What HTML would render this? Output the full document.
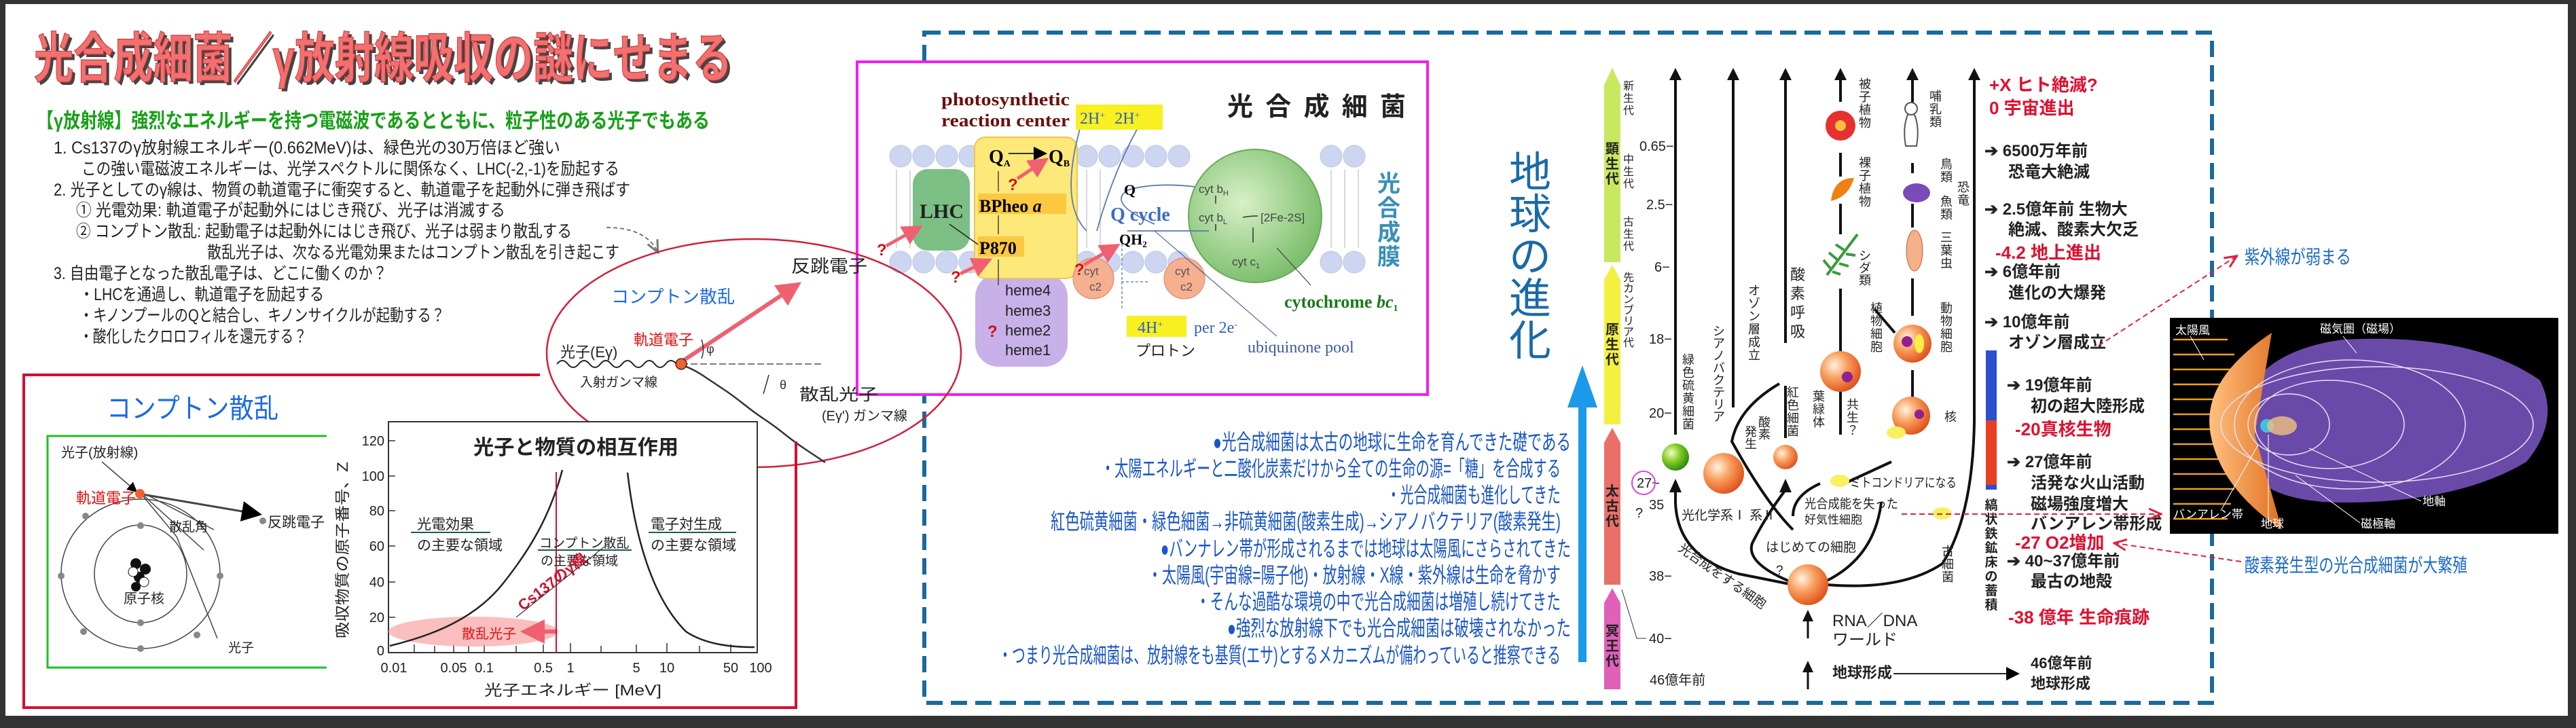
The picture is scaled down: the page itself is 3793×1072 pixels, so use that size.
<!DOCTYPE html>
<html><head><meta charset="utf-8"><style>
html,body{margin:0;padding:0;background:#fff}
svg{display:block}
text{font-family:"Liberation Sans","Noto Sans CJK JP",sans-serif}
.s{font-family:"Liberation Serif","Noto Serif CJK SC",serif}
</style></head><body>
<svg width="3793" height="1072" viewBox="0 0 3793 1072" xmlns="http://www.w3.org/2000/svg">
<defs>
<radialGradient id="og" cx="35%" cy="35%" r="70%"><stop offset="0" stop-color="#fff4e0"/><stop offset="0.45" stop-color="#f8a060"/><stop offset="1" stop-color="#e0501a"/></radialGradient>
<radialGradient id="gg" cx="35%" cy="35%" r="70%"><stop offset="0" stop-color="#f0ffc0"/><stop offset="0.5" stop-color="#80c820"/><stop offset="1" stop-color="#2a8a10"/></radialGradient>
<radialGradient id="cg" cx="40%" cy="40%" r="70%"><stop offset="0" stop-color="#d8f0c8"/><stop offset="1" stop-color="#70b860"/></radialGradient>
<linearGradient id="cone" x1="0" x2="1"><stop offset="0" stop-color="#ffc080"/><stop offset="1" stop-color="#e07020"/></linearGradient>
<marker id="ab" markerWidth="10" markerHeight="10" refX="8" refY="5" orient="auto"><path d="M0,0 L10,5 L0,10 z" fill="#000"/></marker>
<marker id="ar" markerWidth="10" markerHeight="10" refX="8" refY="5" orient="auto"><path d="M0,1 L9,5 L0,9" fill="none" stroke="#e02040" stroke-width="1.5"/></marker>
<marker id="ap" markerWidth="6" markerHeight="6" refX="4" refY="3" orient="auto"><path d="M0,0 L6,3 L0,6 z" fill="#f06070"/></marker>
<marker id="ag" markerWidth="10" markerHeight="10" refX="8" refY="5" orient="auto"><path d="M0,1 L9,5 L0,9" fill="none" stroke="#777" stroke-width="1.5"/></marker>
</defs>
<!-- frame -->
<rect x="0" y="0" width="3793" height="1072" fill="#333"/>
<rect x="8" y="6" width="3773" height="1048" fill="#fff"/>

<!-- title -->
<text x="54" y="118" font-size="80" font-weight="bold" textLength="1028" lengthAdjust="spacingAndGlyphs" fill="#444">光合成細菌／γ放射線吸収の謎にせまる</text>
<text x="50" y="114" font-size="80" font-weight="bold" textLength="1028" lengthAdjust="spacingAndGlyphs" fill="#f27070" stroke="#c83838" stroke-width="1.2">光合成細菌／γ放射線吸収の謎にせまる</text>

<text x="54" y="188" font-size="30" font-weight="bold" fill="#18a018" textLength="991" lengthAdjust="spacingAndGlyphs">【γ放射線】強烈なエネルギーを持つ電磁波であるとともに、粒子性のある光子でもある</text>
<g font-size="25" fill="#222">
<text x="79" y="226" textLength="746" lengthAdjust="spacingAndGlyphs">1. Cs137のγ放射線エネルギー(0.662MeV)は、緑色光の30万倍ほど強い</text>
<text x="120" y="257" textLength="792" lengthAdjust="spacingAndGlyphs">この強い電磁波エネルギーは、光学スペクトルに関係なく、LHC(-2,-1)を励起する</text>
<text x="79" y="288" textLength="849" lengthAdjust="spacingAndGlyphs">2. 光子としてのγ線は、物質の軌道電子に衝突すると、軌道電子を起動外に弾き飛ばす</text>
<text x="112" y="318" textLength="632" lengthAdjust="spacingAndGlyphs">① 光電効果:  軌道電子が起動外にはじき飛び、光子は消滅する</text>
<text x="112" y="349" textLength="730" lengthAdjust="spacingAndGlyphs">② コンプトン散乱:  起動電子は起動外にはじき飛び、光子は弱まり散乱する</text>
<text x="305" y="380" textLength="607" lengthAdjust="spacingAndGlyphs">散乱光子は、次なる光電効果またはコンプトン散乱を引き起こす</text>
<text x="79" y="411" textLength="491" lengthAdjust="spacingAndGlyphs">3. 自由電子となった散乱電子は、どこに働くのか？</text>
<text x="117" y="442" textLength="360" lengthAdjust="spacingAndGlyphs">・LHCを通過し、軌道電子を励起する</text>
<text x="117" y="473" textLength="538" lengthAdjust="spacingAndGlyphs">・キノンプールのQと結合し、キノンサイクルが起動する？</text>
<text x="117" y="504" textLength="335" lengthAdjust="spacingAndGlyphs">・酸化したクロロフィルを還元する？</text>
</g>
<path d="M893,335 Q950,335 968,370" fill="none" stroke="#777" stroke-width="2" stroke-dasharray="6,4" marker-end="url(#ag)"/>

<!-- blue dashed box -->
<rect x="1361" y="48" width="1896" height="987" fill="none" stroke="#1a6a9c" stroke-width="6" stroke-dasharray="24,12"/>

<!-- pink box -->
<rect x="1262" y="91" width="840" height="490" fill="#fff" stroke="#f020f0" stroke-width="4"/>
<!-- membrane -->
<g fill="#cdd6f0" stroke="#b8c4e4">
<g id="crow">
<circle cx="1326" cy="230" r="16"/><circle cx="1360" cy="230" r="16"/><circle cx="1394" cy="230" r="16"/><circle cx="1428" cy="230" r="16"/><circle cx="1600" cy="230" r="16"/><circle cx="1634" cy="230" r="16"/><circle cx="1668" cy="230" r="16"/><circle cx="1702" cy="230" r="16"/><circle cx="1736" cy="230" r="16"/><circle cx="1960" cy="230" r="16"/><circle cx="1994" cy="230" r="16"/>
</g>
<use href="#crow" y="156"/>
</g>
<g stroke="#ccc" stroke-width="1.5">
<path d="M1320,250 v115 M1340,250 v115 M1600,250 v115 M1620,250 v115 M1960,250 v115 M1980,250 v115 M2000,250 v115"/>
</g>
<rect x="1344" y="249" width="84" height="120" rx="22" fill="#7cbf84"/>
<text x="1354" y="321" class="s" font-size="30" font-weight="bold" fill="#222">LHC</text>
<rect x="1436" y="403" width="136" height="137" rx="34" fill="#c8b0e8"/>
<rect x="1435" y="202" width="151" height="208" rx="16" fill="#fde87a" stroke="#e8c850" stroke-width="2"/>
<rect x="1440" y="285" width="130" height="30" fill="#fcc840"/>
<rect x="1440" y="348" width="68" height="30" fill="#fcc840"/>
<text x="1456" y="240" class="s" font-size="28" font-weight="bold">Q<tspan font-size="14" dy="5">A</tspan></text>
<text x="1544" y="240" class="s" font-size="28" font-weight="bold">Q<tspan font-size="14" dy="5">B</tspan></text>
<path d="M1485,226 H1538" stroke="#333" stroke-width="2" marker-end="url(#ab)"/>
<text x="1442" y="312" class="s" font-size="26" font-weight="bold">BPheo <tspan font-style="italic">a</tspan></text>
<text x="1442" y="374" class="s" font-size="26" font-weight="bold">P870</text>
<path d="M1470,282 v-30 M1470,345 v-28 M1470,420 v-38" stroke="#444" stroke-width="1.5"/>
<path d="M1398,330 L1440,360" stroke="#222" stroke-width="1.5"/>
<g class="s" font-size="22" fill="#222"><text x="1480" y="435">heme4</text><text x="1480" y="465">heme3</text><text x="1480" y="494">heme2</text><text x="1480" y="523">heme1</text></g>
<circle cx="1848" cy="318" r="98" fill="url(#cg)" stroke="#6aa85a" stroke-width="2"/>
<circle cx="1610" cy="410" r="30" fill="#f5b090" stroke="#e08060"/>
<circle cx="1744" cy="410" r="30" fill="#f5b090" stroke="#e08060"/>
<g font-size="17" fill="#555"><text x="1596" y="405">cyt</text><text x="1604" y="428">c2</text><text x="1730" y="405">cyt</text><text x="1738" y="428">c2</text></g>
<g font-size="17" fill="#444"><text x="1765" y="284">cyt b<tspan font-size="11" dy="4">H</tspan></text><text x="1765" y="326">cyt b<tspan font-size="11" dy="4">L</tspan></text><text x="1856" y="326">[2Fe-2S]</text><text x="1814" y="391">cyt c<tspan font-size="11" dy="4">1</tspan></text></g>
<path d="M1790,300 v-12 M1790,340 v-10 M1845,335 v22 M1830,320 Q1840,318 1852,318" stroke="#333" stroke-width="1.5" fill="none"/>
<path d="M1700,330 Q1630,300 1660,280 Q1700,268 1760,275 M1660,340 H1780 M1600,340 Q1560,300 1590,190 M1615,340 Q1640,250 1680,180" stroke="#5a7ab0" stroke-width="1.8" fill="none"/>
<path d="M1690,415 H1650 M1652,345 V455" stroke="#6a8ac0" stroke-width="1.5" stroke-dasharray="4,3" fill="none"/>
<path d="M1700,340 L1880,495" stroke="#3050a0" stroke-width="1"/>
<path d="M1880,365 L1930,420" stroke="#333" stroke-width="1"/>
<text x="1655" y="287" class="s" font-size="22" font-weight="bold">Q</text>
<text x="1635" y="325" class="s" font-size="28" font-weight="bold" fill="#3a6ac8">Q cycle</text>
<text x="1648" y="360" class="s" font-size="22" font-weight="bold">QH<tspan font-size="13" dy="4">2</tspan></text>
<text x="1386" y="155" class="s" font-size="26" font-weight="bold" fill="#6a1010" textLength="189" lengthAdjust="spacingAndGlyphs">photosynthetic</text>
<text x="1386" y="186" class="s" font-size="26" font-weight="bold" fill="#6a1010" textLength="189" lengthAdjust="spacingAndGlyphs">reaction center</text>
<rect x="1584" y="154" width="128" height="37" fill="#f8f020"/>
<text x="1590" y="182" class="s" font-size="24" fill="#3060c0">2H<tspan font-size="14" dy="-8">+</tspan><tspan dy="8" dx="14">2H</tspan><tspan font-size="14" dy="-8">+</tspan></text>
<text x="1807" y="170" font-size="38" font-weight="bold" fill="#222" textLength="263" lengthAdjust="spacing">光合成細菌</text>
<g font-size="34" fill="#3a90b8" font-weight="bold"><text x="2028" y="282">光</text><text x="2028" y="318">合</text><text x="2028" y="354">成</text><text x="2028" y="390">膜</text></g>
<text x="1891" y="453" class="s" font-size="26" font-weight="bold" fill="#1a7a1a">cytochrome <tspan font-style="italic">bc</tspan><tspan font-size="14" dy="5">1</tspan></text>
<rect x="1659" y="465" width="88" height="31" fill="#f8f020"/>
<text x="1675" y="490" class="s" font-size="24" fill="#3060c0">4H<tspan font-size="14" dy="-8">+</tspan></text>
<text x="1758" y="490" class="s" font-size="24" fill="#3060c0">per 2e<tspan font-size="14" dy="-8">-</tspan></text>
<text x="1672" y="524" font-size="22" fill="#222">プロトン</text>
<text x="1837" y="519" class="s" font-size="24" fill="#3a5aa8">ubiquinone pool</text>
<g stroke="#f06070" stroke-width="5" marker-end="url(#ap)"><line x1="1305" y1="362" x2="1350" y2="337"/><line x1="1414" y1="403" x2="1452" y2="385"/><line x1="1498" y1="263" x2="1536" y2="238"/><line x1="1596" y1="390" x2="1641" y2="364"/></g>
<g font-size="24" font-weight="bold" fill="#d01010" class="s"><text x="1291" y="376">?</text><text x="1400" y="416">?</text><text x="1484" y="280">?</text><text x="1582" y="405">?</text><text x="1454" y="496">?</text></g>

<!-- Compton callout ellipse -->
<ellipse cx="1110" cy="520" rx="305" ry="168" fill="none" stroke="#d0203a" stroke-width="2.5"/>
<text x="900" y="446" font-size="26" fill="#1a6ae8" textLength="182" lengthAdjust="spacingAndGlyphs">コンプトン散乱</text>
<text x="1165" y="401" font-size="26" fill="#222" textLength="112" lengthAdjust="spacingAndGlyphs">反跳電子</text>
<line x1="1003" y1="533" x2="1170" y2="422" stroke="#f06070" stroke-width="6" marker-end="url(#ap)"/>
<text x="825" y="526" font-size="22" fill="#222">光子(Eγ)</text>
<text x="933" y="508" font-size="22" fill="#e01010">軌道電子</text>
<path d="M820,536 q8,-10 16,0 t16,0 t16,0 t16,0 t16,0 t16,0 t16,0 t16,0 t16,0 t16,0 t16,0" fill="none" stroke="#222" stroke-width="2"/>
<line x1="1003" y1="536" x2="1210" y2="536" stroke="#555" stroke-width="1.5" stroke-dasharray="10,4"/>
<path d="M1005,538 q15,5 30,15 t30,20 t30,22 t30,22 t30,22 t30,22 t30,20" fill="none" stroke="#333" stroke-width="2.5"/>
<circle cx="1003" cy="536" r="8" fill="#f06030" stroke="#000"/>
<text x="854" y="569" font-size="19" fill="#222">入射ガンマ線</text>
<text x="1040" y="520" font-size="18" fill="#333">φ</text>
<text x="1148" y="573" font-size="18" fill="#333">θ</text>
<path d="M1033,500 q5,15 0,28 M1132,552 q-4,15 -8,28" stroke="#333" fill="none" stroke-width="1.5"/>
<text x="1177" y="589" font-size="24" fill="#222" textLength="116" lengthAdjust="spacingAndGlyphs">散乱光子</text>
<text x="1210" y="619" font-size="20" fill="#222">(Eγ')  ガンマ線</text>

<!-- lower-left red box -->
<path d="M795,552 H35 V1042 H1172 V650" fill="none" stroke="#d01030" stroke-width="4"/>
<text x="157" y="615" font-size="40" fill="#1a6ae8" textLength="253" lengthAdjust="spacingAndGlyphs">コンプトン散乱</text>
<path d="M481,642 H70 V983 H481" fill="none" stroke="#20c020" stroke-width="3"/>
<!-- atom -->
<g fill="none" stroke="#444" stroke-width="1.5">
<ellipse cx="207" cy="845" rx="117" ry="110"/>
<ellipse cx="207" cy="845" rx="68" ry="72"/>
<line x1="150" y1="680" x2="200" y2="723" marker-end="url(#ab)"/>
<line x1="210" y1="728" x2="380" y2="757" marker-end="url(#ab)" stroke-width="3"/>
<path d="M210,730 L260,790 L320,940 M212,730 L300,810 M215,728 L315,780"/>
</g>
<g fill="#888"><circle cx="126" cy="760" r="5"/><circle cx="207" cy="774" r="5"/><circle cx="207" cy="917" r="5"/><circle cx="90" cy="848" r="5"/><circle cx="324" cy="848" r="5"/><circle cx="123" cy="930" r="5"/><circle cx="290" cy="935" r="5"/><circle cx="207" cy="955" r="5"/><circle cx="387" cy="767" r="5"/></g>
<g fill="#111"><circle cx="200" cy="830" r="8"/><circle cx="214" cy="838" r="8"/><circle cx="205" cy="850" r="8"/><circle cx="196" cy="842" r="7" fill="#fff" stroke="#111"/><circle cx="212" cy="857" r="7" fill="#fff" stroke="#111"/><circle cx="200" cy="864" r="7"/></g>
<circle cx="206" cy="727" r="7" fill="#f06030"/>
<text x="90" y="673" font-size="20" fill="#222">光子(放射線)</text>
<text x="112" y="741" font-size="22" fill="#e01010">軌道電子</text>
<text x="394" y="776" font-size="21" fill="#222">反跳電子</text>
<text x="249" y="782" font-size="19" fill="#222">散乱角</text>
<text x="182" y="888" font-size="20" fill="#222">原子核</text>
<text x="336" y="960" font-size="19" fill="#222">光子</text>
<!-- chart -->
<rect x="572" y="621" width="543" height="340" fill="#fff" stroke="#333" stroke-width="2"/>
<text x="697" y="669" font-size="30" font-weight="bold" fill="#222" textLength="302" lengthAdjust="spacingAndGlyphs">光子と物質の相互作用</text>
<g font-size="20" fill="#222" text-anchor="end"><text x="566" y="656">120</text><text x="566" y="708">100</text><text x="566" y="759">80</text><text x="566" y="811">60</text><text x="566" y="864">40</text><text x="566" y="916">20</text><text x="566" y="965">0</text></g>
<g stroke="#333" stroke-width="1.5"><path d="M572,649 h10 M572,701 h10 M572,752 h10 M572,804 h10 M572,857 h10 M572,909 h10 M610,961 v-12 M640,961 v-10 M668,961 v-12 M690,961 v-10 M713,961 v-12 M760,961 v-10 M800,961 v-12 M840,961 v-14 M885,961 v-10 M937,961 v-12 M982,961 v-14 M1030,961 v-10 M1076,961 v-12"/></g>
<g font-size="20" fill="#222" text-anchor="middle"><text x="580" y="990">0.01</text><text x="668" y="990">0.05</text><text x="713" y="990">0.1</text><text x="800" y="990">0.5</text><text x="840" y="990">1</text><text x="937" y="990">5</text><text x="982" y="990">10</text><text x="1076" y="990">50</text><text x="1120" y="990">100</text></g>
<text x="713" y="1024" font-size="22" fill="#222" textLength="261" lengthAdjust="spacingAndGlyphs">光子エネルギー  [MeV]</text>
<text transform="translate(512,940) rotate(-90)" font-size="22" fill="#222" textLength="260" lengthAdjust="spacingAndGlyphs">吸収物質の原子番号、Z</text>
<ellipse cx="697" cy="930" rx="125" ry="22" fill="#f8a8a8" opacity="0.75"/>
<path d="M574,951 C640,935 700,910 740,860 C780,810 810,760 828,692" fill="none" stroke="#222" stroke-width="2.5"/>
<path d="M924,696 C935,790 960,880 1010,930 C1040,950 1080,953 1111,953" fill="none" stroke="#222" stroke-width="2.5"/>
<line x1="819" y1="695" x2="819" y2="961" stroke="#d01030" stroke-width="2"/>
<g font-size="21" fill="#222"><text x="614" y="779">光電効果</text><text x="614" y="810">の主要な領域</text><text x="794" y="806" font-size="19">コンプトン散乱</text><text x="796" y="832" font-size="19">の主要な領域</text><text x="958" y="779">電子対生成</text><text x="958" y="810">の主要な領域</text></g>
<path d="M605,784 H722 M792,810 H930 M955,784 H1084" stroke="#1a5a5a" stroke-width="2"/>
<text transform="translate(770,900) rotate(-38)" font-size="22" font-weight="bold" fill="#d01030">Cs137のγ線</text>
<line x1="760" y1="909" x2="890" y2="805" stroke="#333" stroke-width="1.2"/>
<text x="680" y="940" font-size="20" fill="#e01010">散乱光子</text>
<line x1="818" y1="930" x2="778" y2="930" stroke="#f06070" stroke-width="6" marker-end="url(#ap)"/>

<!-- 地球の進化 -->
<g font-size="62" fill="#1a6aa8"><text x="2222" y="275">地</text><text x="2222" y="337">球</text><text x="2222" y="399">の</text><text x="2222" y="461">進</text><text x="2222" y="523">化</text></g>
<path d="M2330,975 V590" stroke="#1a9ae8" stroke-width="12"/>
<path d="M2308,600 L2330,538 L2352,600 z" fill="#1a9ae8"/>
<g font-size="32" fill="#1a56c8" text-anchor="end">
<text x="2313" y="662" textLength="527" lengthAdjust="spacingAndGlyphs">●光合成細菌は太古の地球に生命を育んできた礎である</text>
<text x="2298" y="701" textLength="677" lengthAdjust="spacingAndGlyphs">・太陽エネルギーと二酸化炭素だけから全ての生命の源=「糖」を合成する</text>
<text x="2298" y="740" textLength="256" lengthAdjust="spacingAndGlyphs">・光合成細菌も進化してきた</text>
<text x="2298" y="779" textLength="751" lengthAdjust="spacingAndGlyphs">紅色硫黄細菌・緑色細菌→非硫黄細菌(酸素生成)→シアノバクテリア(酸素発生)</text>
<text x="2313" y="819" textLength="604" lengthAdjust="spacingAndGlyphs">●バンナレン帯が形成されるまでは地球は太陽風にさらされてきた</text>
<text x="2298" y="858" textLength="608" lengthAdjust="spacingAndGlyphs">・太陽風(宇宙線=陽子他)・放射線・X線・紫外線は生命を脅かす</text>
<text x="2298" y="897" textLength="537" lengthAdjust="spacingAndGlyphs">・そんな過酷な環境の中で光合成細菌は増殖し続けてきた</text>
<text x="2313" y="936" textLength="506" lengthAdjust="spacingAndGlyphs">●強烈な放射線下でも光合成細菌は破壊されなかった</text>
<text x="2298" y="976" textLength="828" lengthAdjust="spacingAndGlyphs">・つまり光合成細菌は、放射線をも基質(エサ)とするメカニズムが備わっていると推察できる</text>
</g>

<!-- timeline -->
<polygon points="2362,125 2374,100 2386,125 2386,386 2362,386" fill="#c8e860"/>
<polygon points="2362,412 2374,390 2386,412 2386,625 2362,625" fill="#f4f040"/>
<polygon points="2362,652 2374,630 2386,652 2386,861 2362,861" fill="#e87068"/>
<polygon points="2362,888 2374,866 2386,888 2386,1015 2362,1015" fill="#e060b8"/>
<g font-size="20" font-weight="bold" fill="#222" text-anchor="middle">
<text x="2374" y="226">顕</text><text x="2374" y="248">生</text><text x="2374" y="270">代</text>
<text x="2374" y="492">原</text><text x="2374" y="514">生</text><text x="2374" y="536">代</text>
<text x="2374" y="730">太</text><text x="2374" y="752">古</text><text x="2374" y="774">代</text>
<text x="2374" y="936">冥</text><text x="2374" y="958">王</text><text x="2374" y="980">代</text>
</g>
<g font-size="16" fill="#222" text-anchor="middle">
<text x="2398" y="132">新</text><text x="2398" y="150">生</text><text x="2398" y="168">代</text>
<text x="2398" y="240">中</text><text x="2398" y="258">生</text><text x="2398" y="276">代</text>
<text x="2398" y="332">古</text><text x="2398" y="350">生</text><text x="2398" y="368">代</text>
<text x="2398" y="414">先</text><text x="2398" y="430">カ</text><text x="2398" y="446">ン</text><text x="2398" y="462">ブ</text><text x="2398" y="478">リ</text><text x="2398" y="494">ア</text><text x="2398" y="510">代</text>
</g>
<g font-size="20" fill="#222"><text x="2414" y="222">0.65−</text><text x="2424" y="308">2.5−</text><text x="2436" y="400">6−</text><text x="2428" y="506">18−</text><text x="2428" y="615">20−</text><text x="2410" y="718">27~</text><text x="2428" y="750">35</text><text x="2408" y="762">?</text><text x="2428" y="855">38−</text><text x="2428" y="947">40−</text><text x="2429" y="1008">46億年前</text></g>
<ellipse cx="2420" cy="711" rx="17" ry="17" fill="none" stroke="#e040e0" stroke-width="2"/>
<path d="M2388,868 L2410,940 H2424" stroke="#333" fill="none"/>
<!-- vertical arrows -->
<g stroke="#111" stroke-width="4" fill="none">
<path d="M2467,118 V640"/><path d="M2552,118 V600"/><path d="M2629,118 V505 M2629,568 V645"/><path d="M2710,118 V150 M2710,225 V260 M2710,300 V345 M2710,425 V640"/><path d="M2816,118 V155 M2816,240 V255 M2816,300 V335 M2816,410 V465 M2816,545 V585"/>
<path d="M2907,118 V620 Q2905,760 2860,830 Q2800,870 2690,861"/>
<path d="M2467,710 V740 Q2470,820 2560,845 L2640,861"/>
<path d="M2640,858 Q2570,830 2580,800 Q2600,760 2630,720"/>
<path d="M2690,855 Q2760,820 2770,740"/>
<path d="M2640,780 Q2600,740 2550,650 Q2560,600 2620,565"/>
<path d="M2640,760 Q2640,730 2680,712"/>
<path d="M2720,710 L2785,680"/>
<path d="M2760,455 L2790,490"/>
</g>
<g fill="#111"><path d="M2458,118 L2467,100 L2476,118z M2543,118 L2552,100 L2561,118z M2620,118 L2629,100 L2638,118z M2701,118 L2710,100 L2719,118z M2807,118 L2816,100 L2825,118z M2898,118 L2907,100 L2916,118z"/>
<path d="M2458,725 L2467,705 L2476,725z M2620,725 L2629,705 L2638,725z"/></g>
<!-- balls -->
<circle cx="2467" cy="673" r="20" fill="url(#gg)"/>
<circle cx="2538" cy="697" r="30" fill="url(#og)"/>
<circle cx="2629" cy="673" r="18" fill="url(#og)"/>
<circle cx="2710" cy="547" r="30" fill="url(#og)"/><circle cx="2720" cy="555" r="8" fill="#902090"/>
<circle cx="2816" cy="506" r="28" fill="url(#og)"/><circle cx="2808" cy="503" r="8" fill="#902090"/><ellipse cx="2826" cy="506" rx="7" ry="14" fill="#f8f040"/>
<circle cx="2814" cy="612" r="28" fill="url(#og)"/><circle cx="2826" cy="610" r="7" fill="#902090"/>
<circle cx="2662" cy="861" r="30" fill="url(#og)"/>
<ellipse cx="2792" cy="637" rx="14" ry="9" fill="#f8f060"/>
<ellipse cx="2709" cy="708" rx="14" ry="9" fill="#f8f060"/>
<ellipse cx="2860" cy="756" rx="14" ry="9" fill="#f8f060"/>
<!-- organisms -->
<circle cx="2710" cy="185" r="22" fill="#e83030"/><circle cx="2710" cy="185" r="8" fill="#f8c040"/>
<path d="M2696,296 Q2700,262 2730,262 Q2722,290 2696,296z" fill="#f08010"/>
<path d="M2690,405 L2735,345 M2695,395 l-10,-12 M2705,382 l-12,-10 M2715,368 l-12,-8 M2698,400 l12,4 M2708,388 l14,4 M2718,374 l14,2" stroke="#3a9a3a" stroke-width="4"/>
<path d="M2806,215 Q2800,180 2814,160 Q2828,180 2822,215z" fill="#fff" stroke="#555" stroke-width="2"/><circle cx="2814" cy="160" r="9" fill="#fff" stroke="#555" stroke-width="2"/>
<ellipse cx="2822" cy="284" rx="20" ry="14" fill="#7a4ab8"/>
<ellipse cx="2819" cy="369" rx="12" ry="30" fill="#f4b088" stroke="#c06040"/>
<g font-size="18" fill="#222" text-anchor="middle">
<text x="2486" y="536">緑</text><text x="2486" y="555">色</text><text x="2486" y="574">硫</text><text x="2486" y="593">黄</text><text x="2486" y="612">細</text><text x="2486" y="631">菌</text>
<text x="2531" y="494">シ</text><text x="2531" y="512">ア</text><text x="2531" y="530">ノ</text><text x="2531" y="548">バ</text><text x="2531" y="566">ク</text><text x="2531" y="584">テ</text><text x="2531" y="602">リ</text><text x="2531" y="620">ア</text>
<text x="2583" y="434">オ</text><text x="2583" y="453">ゾ</text><text x="2583" y="472">ン</text><text x="2583" y="491">層</text><text x="2583" y="510">成</text><text x="2583" y="529">立</text>
<text x="2647" y="412" font-size="22">酸</text><text x="2647" y="440" font-size="22">素</text><text x="2647" y="468" font-size="22">呼</text><text x="2647" y="496" font-size="22">吸</text>
<text x="2640" y="584">紅</text><text x="2640" y="603">色</text><text x="2640" y="622">細</text><text x="2640" y="641">菌</text>
<text x="2578" y="642">発</text><text x="2578" y="660">生</text><text x="2598" y="628">酸</text><text x="2598" y="646">素</text>
<text x="2678" y="590">葉</text><text x="2678" y="609">緑</text><text x="2678" y="628">体</text>
<text x="2728" y="602">共</text><text x="2728" y="621">生</text><text x="2728" y="640">？</text>
<text x="2763" y="460">植</text><text x="2763" y="479">物</text><text x="2763" y="498">細</text><text x="2763" y="517">胞</text>
<text x="2746" y="130">被</text><text x="2746" y="149">子</text><text x="2746" y="168">植</text><text x="2746" y="187">物</text>
<text x="2746" y="246">裸</text><text x="2746" y="265">子</text><text x="2746" y="284">植</text><text x="2746" y="303">物</text>
<text x="2746" y="383">シ</text><text x="2746" y="401">ダ</text><text x="2746" y="419">類</text>
<text x="2850" y="148">哺</text><text x="2850" y="167">乳</text><text x="2850" y="186">類</text>
<text x="2866" y="248">鳥</text><text x="2866" y="267">類</text><text x="2866" y="303">魚</text><text x="2866" y="322">類</text>
<text x="2866" y="356">三</text><text x="2866" y="375">葉</text><text x="2866" y="394">虫</text>
<text x="2891" y="282">恐</text><text x="2891" y="301">竜</text>
<text x="2866" y="460">動</text><text x="2866" y="479">物</text><text x="2866" y="498">細</text><text x="2866" y="517">胞</text>
<text x="2872" y="620">核</text>
<text x="2868" y="818">古</text><text x="2868" y="837">細</text><text x="2868" y="856">菌</text>
</g>
<g font-size="19" font-weight="bold" fill="#222" text-anchor="middle"><text x="2932" y="750">縞</text><text x="2932" y="771">状</text><text x="2932" y="792">鉄</text><text x="2932" y="813">鉱</text><text x="2932" y="834">床</text><text x="2932" y="855">の</text><text x="2932" y="876">蓄</text><text x="2932" y="897">積</text></g>
<rect x="2924" y="516" width="16" height="103" fill="#2a50d0"/><rect x="2924" y="619" width="16" height="95" fill="#e84020"/><rect x="2924" y="714" width="16" height="7" fill="#2a50d0"/>
<g font-size="19" fill="#222">
<text x="2476" y="765">光化学系Ⅰ 系Ⅱ</text>
<text x="2657" y="748" textLength="138" lengthAdjust="spacingAndGlyphs">光合成能を失った</text>
<text x="2657" y="771" font-size="17">好気性細胞</text>
<text x="2724" y="717" textLength="157" lengthAdjust="spacingAndGlyphs">ミトコンドリアになる</text>
<text x="2600" y="812">はじめての細胞</text>
<text x="2615" y="846">?</text>
<text transform="translate(2470,810) rotate(35)">光合成をする細胞</text>
<text x="2698" y="922" font-size="24">RNA／DNA</text>
<text x="2698" y="950" font-size="24">ワールド</text>
<text x="2698" y="998" font-size="22" font-weight="bold">地球形成</text>
</g>
<path d="M2662,940 v-30 M2662,1015 v-30" stroke="#111" stroke-width="3"/>
<path d="M2654,915 L2662,898 L2670,915z M2654,990 L2662,973 L2670,990z" fill="#111"/>
<line x1="2788" y1="992" x2="2970" y2="992" stroke="#222" stroke-width="2" marker-end="url(#ab)"/>
<g font-size="22" fill="#222" font-weight="bold">
<text x="2990" y="984">46億年前</text><text x="2990" y="1014">地球形成</text>
</g>
<!-- events -->
<g font-size="24" font-weight="bold" fill="#222">
<text x="2922" y="230">➔ 6500万年前</text><text x="2957" y="261">恐竜大絶滅</text>
<text x="2922" y="316">➔ 2.5億年前  生物大</text><text x="2957" y="346">絶滅、酸素大欠乏</text>
<text x="2922" y="408">➔ 6億年前</text><text x="2957" y="439">進化の大爆発</text>
<text x="2922" y="482">➔ 10億年前</text><text x="2957" y="512">オゾン層成立</text>
<text x="2955" y="575">➔ 19億年前</text><text x="2990" y="606">初の超大陸形成</text>
<text x="2955" y="688">➔ 27億年前</text><text x="2990" y="719">活発な火山活動</text><text x="2990" y="750">磁場強度増大</text><text x="2990" y="779">バンアレン帯形成</text>
<text x="2955" y="834">➔ 40~37億年前</text><text x="2990" y="864">最古の地殻</text>
</g>
<g font-size="26" fill="#e01030" font-weight="bold">
<text x="2929" y="134">+X ヒト絶滅?</text>
<text x="2929" y="168">0 宇宙進出</text>
<text x="2938" y="381">-4.2 地上進出</text>
<text x="2967" y="641">-20真核生物</text>
<text x="2967" y="808">-27  O2増加</text>
<text x="2957" y="918">-38 億年 生命痕跡</text>
</g>
<!-- magnetosphere -->
<rect x="3195" y="468" width="572" height="318" fill="#000"/>
<g stroke="#f0a020" stroke-width="2.5"><path d="M3200,500 h80 M3200,522 h90 M3200,544 h95 M3200,566 h95 M3200,588 h95 M3200,610 h95 M3200,632 h95 M3200,654 h95 M3200,676 h95 M3200,698 h95 M3200,720 h90 M3200,742 h85 M3200,764 h80"/></g>
<path d="M3290,640 Q3300,520 3450,500 Q3640,490 3740,560 Q3770,620 3720,680 Q3620,740 3450,740 Q3300,740 3290,640z" fill="#6a4aa8"/>
<path d="M3345,490 Q3240,560 3255,640 Q3270,720 3360,780 L3320,640 z" fill="url(#cone)"/>
<g fill="none" stroke="#e8e0f8" stroke-width="1.5">
<ellipse cx="3430" cy="625" rx="110" ry="65"/><ellipse cx="3460" cy="625" rx="170" ry="95"/><ellipse cx="3500" cy="625" rx="230" ry="85"/><ellipse cx="3370" cy="625" rx="60" ry="45"/>
</g>
<circle cx="3338" cy="627" r="10" fill="#40c0e0"/>
<ellipse cx="3360" cy="627" rx="22" ry="14" fill="#f0c080" opacity="0.8"/>
<g font-size="17" fill="#fff"><text x="3203" y="492">太陽風</text><text x="3416" y="490">磁気圏（磁場）</text><text x="3567" y="744">地軸</text><text x="3200" y="763">バンアレン帯</text><text x="3329" y="777">地球</text><text x="3476" y="777">磁極軸</text></g>
<g stroke="#fff" stroke-width="1"><path d="M3225,495 L3245,530 M3450,495 L3470,520 M3565,738 L3400,660 M3270,752 L3325,655 M3340,768 L3340,640 M3475,770 L3380,700"/></g>
<!-- red dashed connectors -->
<g stroke="#e02040" stroke-width="2" stroke-dasharray="8,5" fill="none">
<path d="M3090,509 L3292,378" marker-end="url(#ar)"/>
<path d="M2800,757 H3180" marker-end="url(#ar)"/>
<path d="M3300,827 L3115,800" marker-end="url(#ar)"/>
</g>
<text x="3305" y="388" font-size="28" fill="#1a6ac8" textLength="157" lengthAdjust="spacingAndGlyphs">紫外線が弱まる</text>
<text x="3305" y="842" font-size="28" fill="#1a6ac8" textLength="328" lengthAdjust="spacingAndGlyphs">酸素発生型の光合成細菌が大繁殖</text>
</svg>
</body></html>
